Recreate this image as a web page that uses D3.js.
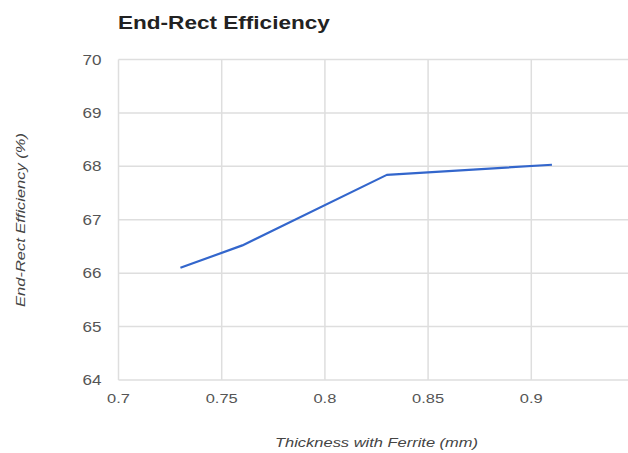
<!DOCTYPE html>
<html>
<head>
<meta charset="utf-8">
<script src="https://cdn.jsdelivr.net/npm/d3@7"></script>
<style>
  html, body { margin: 0; padding: 0; background: #fff; }
  svg { display: block; font-family: "Liberation Sans", Arial, sans-serif; }
</style>
</head>
<body>
<svg id="chart" width="628" height="453"></svg>
<script>
const thickness = [0.73, 0.76, 0.83, 0.91];
const efficiency = [66.1, 66.52, 67.84, 68.03];
const xTicks = [0.7, 0.75, 0.8, 0.85, 0.9];
const xTickLabels = ["0.7", "0.75", "0.8", "0.85", "0.9"];
const yTicks = [64, 65, 66, 67, 68, 69, 70];
const title = "End-Rect Efficiency";
const xTitle = "Thickness with Ferrite (mm)";
const yTitle = "End-Rect Efficiency (%)";

const svg = d3.select("#chart");
const plotLeft = 118.5, plotRight = 634.5, plotTop = 59.5, plotBottom = 380;
const stretch = 1.22;

const x = d3.scaleLinear().domain([0.7, 0.95]).range([plotLeft, plotRight]);
const y = d3.scaleLinear().domain([64, 70]).range([plotBottom, plotTop]);

// gridlines
svg.append("g").selectAll("line").data(yTicks).join("line")
  .attr("x1", plotLeft).attr("x2", plotRight)
  .attr("y1", d => y(d)).attr("y2", d => y(d))
  .attr("stroke", "#dedede").attr("stroke-width", 1.5);
svg.append("g").selectAll("line").data(xTicks).join("line")
  .attr("y1", plotTop).attr("y2", plotBottom)
  .attr("x1", d => x(d)).attr("x2", d => x(d))
  .attr("stroke", "#dedede").attr("stroke-width", 1.5);

// y tick labels
svg.append("g").selectAll("text").data(yTicks).join("text")
  .attr("transform", d => `translate(101.5,${y(d)}) scale(${stretch},1)`)
  .attr("dy", "0.36em")
  .attr("text-anchor", "end").attr("font-size", 14).attr("fill", "#555")
  .text(d => d);

// x tick labels
svg.append("g").selectAll("text").data(xTicks).join("text")
  .attr("transform", d => `translate(${x(d)},398) scale(${stretch},1)`)
  .attr("dy", "0.36em")
  .attr("text-anchor", "middle").attr("font-size", 13.5).attr("fill", "#555")
  .text((d, i) => xTickLabels[i]);

// line
const data = thickness.map((t, i) => [t, efficiency[i]]);
svg.append("path").datum(data)
  .attr("fill", "none").attr("stroke", "#3366cc").attr("stroke-width", 2.2)
  .attr("stroke-linejoin", "round")
  .attr("d", d3.line().x(d => x(d[0])).y(d => y(d[1])));

// title
svg.append("text").attr("transform", `translate(118,28.5) scale(${stretch},1)`)
  .attr("font-size", 18.5).attr("font-weight", "bold").attr("fill", "#222")
  .text(title);

// axis titles
svg.append("text").attr("transform", `translate(376.5,447) scale(${stretch},1)`)
  .attr("text-anchor", "middle").attr("font-size", 13.5).attr("font-style", "italic").attr("fill", "#444")
  .text(xTitle);
svg.append("text")
  .attr("transform", `translate(24.5,220) rotate(-90) scale(${stretch},1)`)
  .attr("text-anchor", "middle").attr("font-size", 13.5).attr("font-style", "italic").attr("fill", "#444")
  .text(yTitle);
</script>
</body>
</html>
